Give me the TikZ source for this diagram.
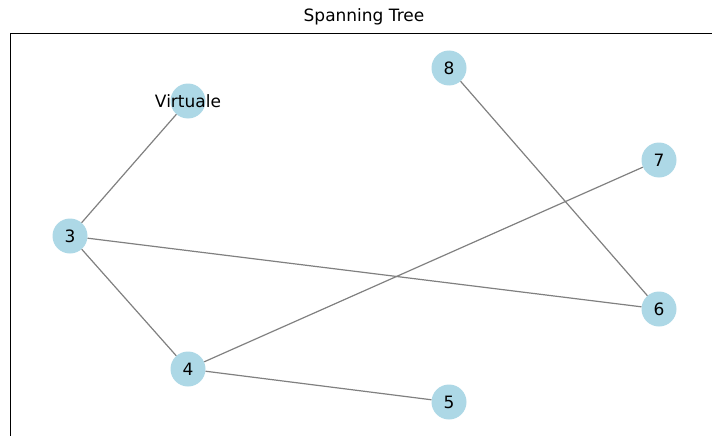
\documentclass[tikz,border=0pt]{standalone}
\usepackage{fontspec}
\setmainfont{DejaVu Sans}
\begin{document}
\begin{tikzpicture}[x=1pt,y=-1pt,
  lbl/.style={font=\fontsize{17}{19}\selectfont},
  vertex/.style={circle,fill={rgb,255:red,173;green,216;blue,230},draw=none,
    minimum size=35pt,inner sep=0pt,lbl},
  edge/.style={draw={rgb,255:red,128;green,128;blue,128},line width=1.2pt}]
\useasboundingbox (0,0) rectangle (712,436);
% axes frame (right and bottom sides fall outside the page)
\draw[line width=0.9pt] (10,437) -- (10,33) -- (713,33);
\node[lbl] (title) at (364,17) {Spanning Tree};
% vertices
\node[vertex] (v) at (188,101) {};
\node[vertex] (n8) at (449,68) {8};
\node[vertex] (n7) at (659,160) {7};
\node[vertex] (n3) at (70,236) {3};
\node[vertex] (n6) at (659,309) {6};
\node[vertex] (n4) at (188,369) {4};
\node[vertex] (n5) at (449,402) {5};
% tree edges
\path[edge] (v) -- (n3);
\path[edge] (n3) -- (n6);
\path[edge] (n3) -- (n4);
\path[edge] (n4) -- (n7);
\path[edge] (n4) -- (n5);
\path[edge] (n8) -- (n6);
\node[lbl] (vlabel) at (v.center) {Virtuale};
\end{tikzpicture}
\end{document}
